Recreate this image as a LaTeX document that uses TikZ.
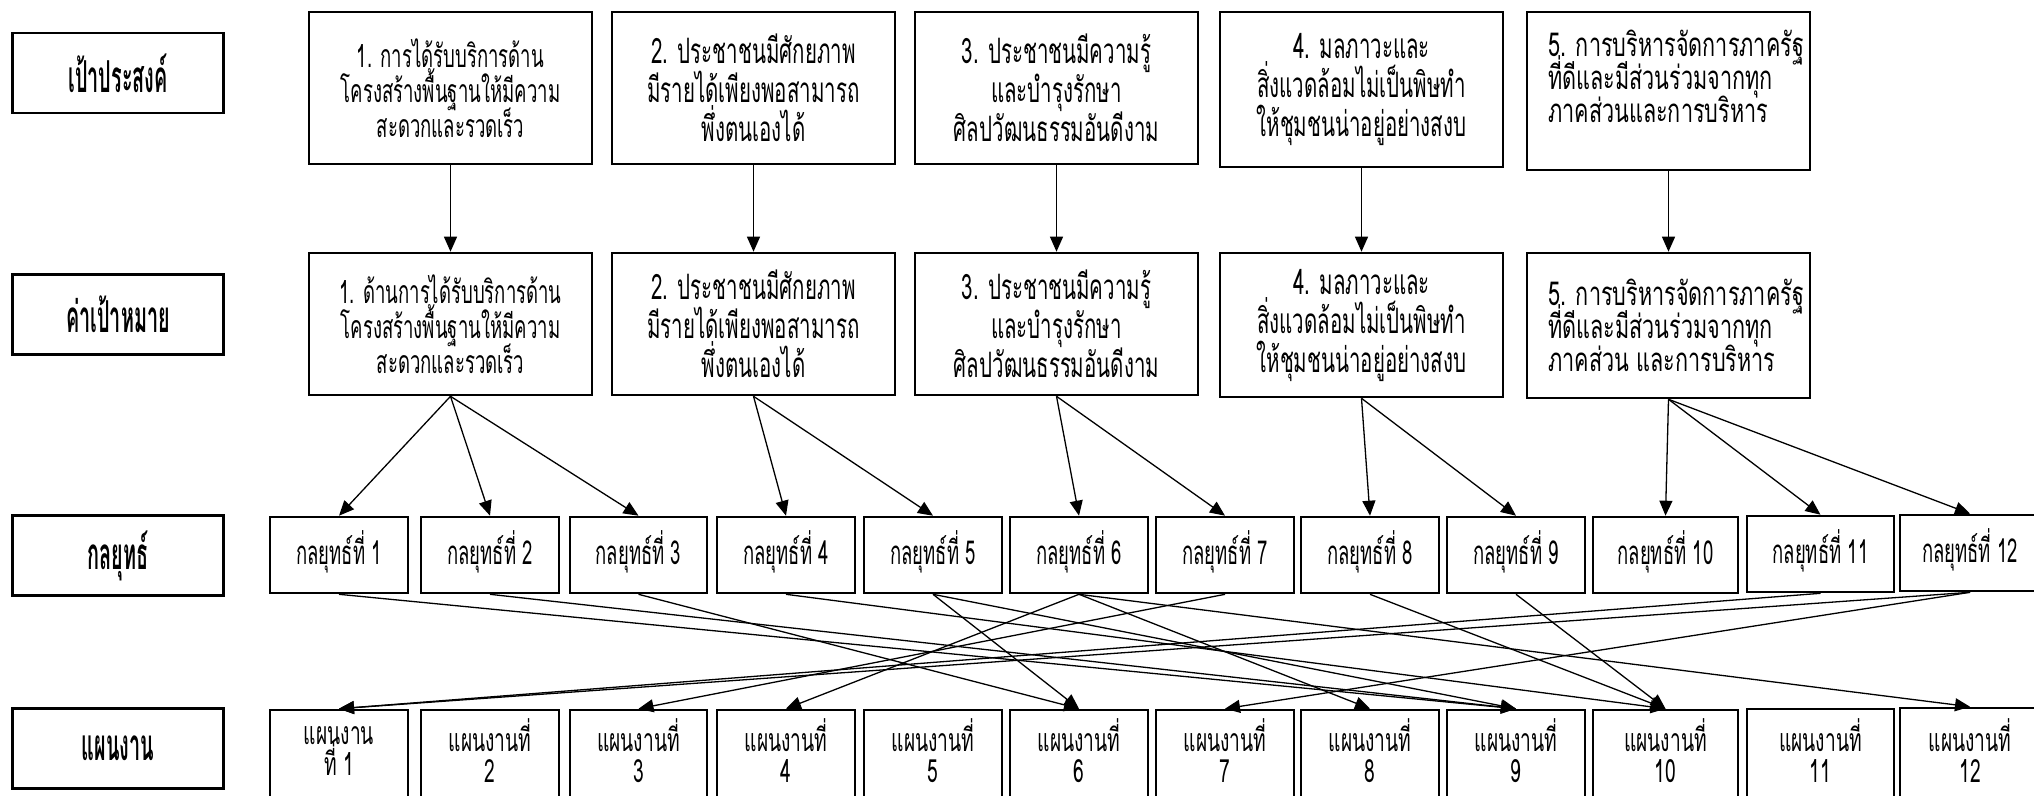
\documentclass[tikz,border=0pt]{standalone}
\usepackage{fontspec}
\newfontfamily\thaiL[Script=Thai,FakeStretch=0.45]{Loma}
\newfontfamily\thaiA[Script=Thai,FakeStretch=0.58]{Loma}
\newfontfamily\thaiG[Script=Thai,FakeStretch=0.585]{Loma}
\newfontfamily\thaiB[Script=Thai,FakeStretch=0.56]{Loma}
\newfontfamily\thaiC[Script=Thai,FakeStretch=0.655]{Loma}
\newfontfamily\thaiD[Script=Thai,FakeStretch=0.6]{Loma}
\usetikzlibrary{arrows.meta}
\setlength{\lineskiplimit}{-100pt}
\begin{document}
\begin{tikzpicture}[x=1pt,y=-1pt,
  box/.style={draw, line width=2.6pt, inner sep=0pt, align=center},
  lab/.style={box, minimum width=211pt, minimum height=80pt, font=\thaiL\bfseries\fontsize{44}{48}\selectfont},
  gsm/.style={box, minimum width=283pt, font=\thaiA\fontsize{32}{35}\selectfont},
  glg/.style={box, minimum width=283pt, font=\thaiG\fontsize{35}{39}\selectfont},
  st/.style={box, minimum height=76pt},
  stt/.style={inner sep=0pt, font=\thaiB\fontsize{33}{36}\selectfont},
  pl/.style={box, minimum height=100pt},
  pt/.style={inner sep=0pt, align=center, font=\thaiD\fontsize{32}{31}\selectfont},
  txt/.style={inner sep=0pt, align=left, font=\thaiC\fontsize{33}{33}\selectfont},
  con/.style={line width=1.3pt, -{Triangle[length=15pt,width=13pt]}}
]
\useasboundingbox (0,0) rectangle (2034,795);
% row labels
\node[lab] (L1) at (118,73) {เป้าประสงค์};
\node[lab] (L2) at (118,314.5) {ค่าเป้าหมาย};
\node[lab] (L3) at (118,555.5) {กลยุทธ์};
\node[lab] (L4) at (118,748.5) {แผนงาน};
% goals
\node[gsm, minimum height=152pt] (G1) at (450.5,88) {1. การได้รับบริการด้าน\\โครงสร้างพื้นฐานให้มีความ\\สะดวกและรวดเร็ว};
\node[glg, minimum height=152pt] (G2) at (753.5,88) {2. ประชาชนมีศักยภาพ\\มีรายได้เพียงพอสามารถ\\พึ่งตนเองได้};
\node[glg, minimum height=152pt] (G3) at (1056.5,88) {3. ประชาชนมีความรู้\\และบำรุงรักษา\\ศิลปวัฒนธรรมอันดีงาม};
\node[glg, minimum height=155pt] (G4) at (1361.5,89.5) {4. มลภาวะและ\\สิ่งแวดล้อมไม่เป็นพิษทำ\\ให้ชุมชนน่าอยู่อย่างสงบ};
\node[box, minimum width=283pt, minimum height=158pt] (G5) at (1668.5,91) {};
\node[txt, anchor=west] (G5t) at (1548,76) {5. การบริหารจัดการภาครัฐ\\ที่ดีและมีส่วนร่วมจากทุก\\ภาคส่วนและการบริหาร};
% targets
\node[gsm, minimum height=142pt] (T1) at (450.5,324) {1. ด้านการได้รับบริการด้าน\\โครงสร้างพื้นฐานให้มีความ\\สะดวกและรวดเร็ว};
\node[glg, minimum height=142pt] (T2) at (753.5,324) {2. ประชาชนมีศักยภาพ\\มีรายได้เพียงพอสามารถ\\พึ่งตนเองได้};
\node[glg, minimum height=142pt] (T3) at (1056.5,324) {3. ประชาชนมีความรู้\\และบำรุงรักษา\\ศิลปวัฒนธรรมอันดีงาม};
\node[glg, minimum height=144pt] (T4) at (1361.5,325) {4. มลภาวะและ\\สิ่งแวดล้อมไม่เป็นพิษทำ\\ให้ชุมชนน่าอยู่อย่างสงบ};
\node[box, minimum width=283pt, minimum height=145pt] (T5) at (1668.5,325.5) {};
\node[txt, anchor=west] (T5t) at (1548,325) {5. การบริหารจัดการภาครัฐ\\ที่ดีและมีส่วนร่วมจากทุก\\ภาคส่วน และการบริหาร};
% strategies
\foreach \n/\x/\w/\y in {1/339/138/555,2/490/138/555,3/638.5/137/555,4/786/138/555,5/933/138/555,6/1079/138/555,7/1225/138/555,8/1370/138/555,9/1516/138/555,10/1665.5/145/555,11/1820.5/147/554,12/1970/140/553}
{
  \node[st, minimum width=\w pt] (S\n) at (\x,\y) {};
  \node[stt] (S\n t) at (\x,\y-3) {กลยุทธ์ที่ \n};
}
% plans (boxes run past the bottom edge)
\foreach \n/\x/\w/\y in {1/339/138/760,2/490/138/760,3/638.5/137/760,4/786/138/760,5/933/138/760,6/1079/138/760,7/1225/138/760,8/1370/138/760,9/1516/138/760,10/1665.5/145/760,11/1820.5/147/759,12/1970/140/758}
  \node[pl, minimum width=\w pt] (P\n) at (\x,\y) {};
\node[pt] (P1t) at (339,751) {แผนงาน\\ที่ 1};
\foreach \n/\x in {2/490,3/638.5,4/786,5/933,6/1079,7/1225,8/1370,9/1516,10/1665.5,11/1820.5,12/1970}
  \node[pt] (P\n t) at (\x,751) {แผนงานที่\\\n};
% goal -> target
\foreach \i in {1,...,5} \draw[con] (G\i.south) -- (T\i.north);
% target -> strategy
\foreach \t/\s in {1/1,1/2,1/3,2/4,2/5,3/6,3/7,4/8,4/9,5/10,5/11,5/12}
  \draw[con] (T\t.south) -- (S\s.north);
% strategy -> plan
\foreach \s/\p in {1/9,2/9,3/6,4/10,5/6,5/9,6/4,6/8,6/12,7/3,8/10,9/10,11/1,12/1,12/7}
  \draw[con] (S\s.south) -- (P\p.north);
\end{tikzpicture}
\end{document}
